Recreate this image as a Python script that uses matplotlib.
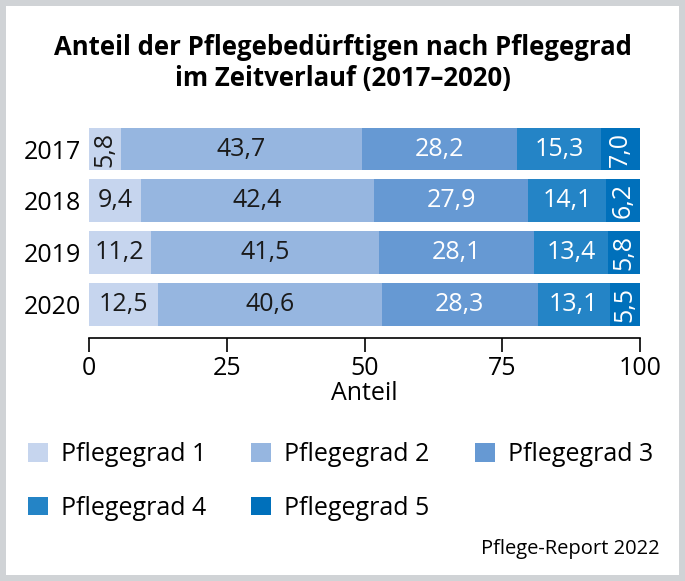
import matplotlib.pyplot as plt
from matplotlib.patches import Rectangle, Patch

plt.rcParams['font.family'] = ['Open Sans', 'DejaVu Sans']

years = ['2017', '2018', '2019', '2020']
grades = ['Pflegegrad 1', 'Pflegegrad 2', 'Pflegegrad 3', 'Pflegegrad 4', 'Pflegegrad 5']
pg1 = [5.8, 9.4, 11.2, 12.5]
pg2 = [43.7, 42.4, 41.5, 40.6]
pg3 = [28.2, 27.9, 28.1, 28.3]
pg4 = [15.3, 14.1, 13.4, 13.1]
pg5 = [7.0, 6.2, 5.8, 5.5]
series = [pg1, pg2, pg3, pg4, pg5]
colors = ['#c6d5ee', '#96b6e0', '#6699d3', '#2484c6', '#0070bb']
text_colors = ['#1a1a1a', '#1a1a1a', 'white', 'white', 'white']
fs = 18

fig = plt.figure(figsize=(6.85, 5.81), dpi=100)
fig.patch.set_facecolor('#d0d3d6')
fig.patches.append(Rectangle((6/685, 6/581), 1 - 12/685, 1 - 12/581,
                             transform=fig.transFigure, facecolor='white',
                             edgecolor='none', zorder=-10))

ax = fig.add_axes([89/685, 1 - 338/581, (640 - 89)/685, (338 - 125.7)/581])
ax.set_facecolor('none')

ypos = list(range(len(years)))
left = [0.0] * len(years)
for vals, c, tc in zip(series, colors, text_colors):
    ax.barh(ypos, vals, left=left, height=0.83, color=c, edgecolor='none')
    for i, v in enumerate(vals):
        x = left[i] + v / 2
        lab = f'{v:.1f}'.replace('.', ',')
        rot = 90 if v < 9 else 0
        ax.text(x, i, lab, rotation=rot, ha='center', va='center',
                fontsize=fs, color=tc)
    left = [l + v for l, v in zip(left, vals)]

ax.set_ylim(len(years) - 1 + 0.65, -0.45)
ax.set_xlim(0, 100)
ax.set_yticks(ypos)
ax.set_yticklabels(years, fontsize=fs)
ax.tick_params(axis='y', length=0, pad=6)
ax.set_xticks([0, 25, 50, 75, 100])
ax.tick_params(axis='x', length=10, width=1.2, labelsize=fs, pad=3)
for s in ['top', 'right', 'left']:
    ax.spines[s].set_visible(False)
ax.spines['bottom'].set_linewidth(1.2)
ax.set_xlabel('Anteil', fontsize=fs, labelpad=0)

fig.text(0.5, 1 - 63/581, 'Anteil der Pflegebedürftigen nach Pflegegrad\nim Zeitverlauf (2017–2020)',
         ha='center', va='center', fontsize=18.5, fontweight='bold', linespacing=1.15)

# legend filled column-wise, so reorder to read row by row
order = [0, 3, 1, 4, 2]
handles = [Patch(facecolor=colors[k], edgecolor='none') for k in order]
labels = [grades[k] for k in order]
fig.legend(handles, labels, loc='upper left', bbox_to_anchor=(28/685, 1 - 442/581),
           ncol=3, frameon=False, fontsize=fs, handlelength=0.8, handleheight=0.76,
           handletextpad=0.52, columnspacing=1.8, labelspacing=1.15,
           borderpad=0, borderaxespad=0)

fig.text(660/685, 1 - 549/581, 'Pflege-Report 2022', ha='right', va='center', fontsize=14.5)

fig.savefig('out.png', dpi=100, facecolor=fig.get_facecolor())
